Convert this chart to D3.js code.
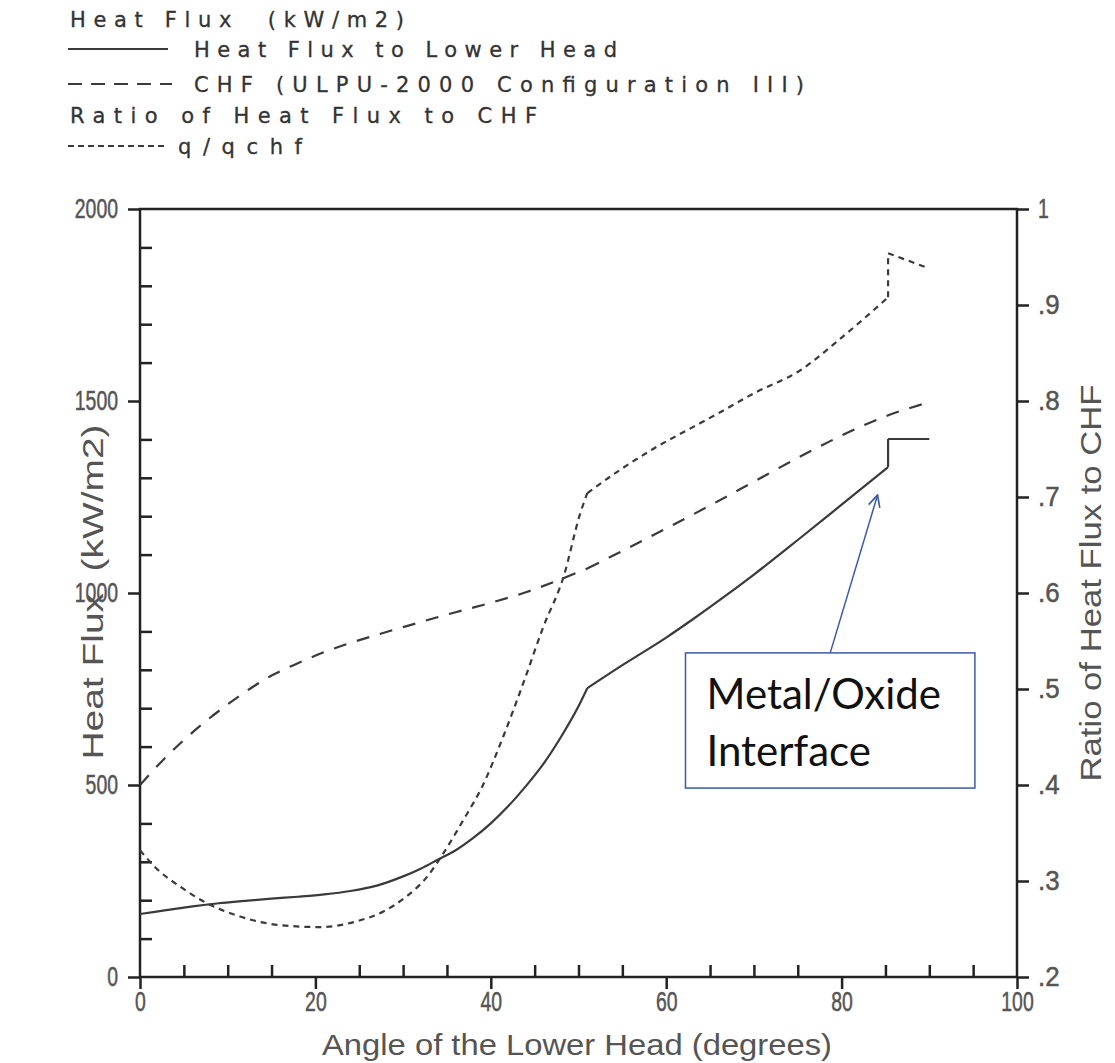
<!DOCTYPE html>
<html>
<head>
<meta charset="utf-8">
<script src="https://cdn.jsdelivr.net/npm/d3@7"></script>
<style>
  body { margin: 0; background: #fff; }
  .tickLbl { font-family: "Liberation Sans", sans-serif; font-size: 27px; fill: #555; stroke: #555; stroke-width: 0.5px; }
  .aTitle { font-family: "Liberation Sans", sans-serif; font-size: 30px; fill: #555; }
  .legText { font-family: "DejaVu Sans", sans-serif; font-size: 21px; fill: #333; stroke: #333; stroke-width: 0.3px; white-space: pre; }
</style>
</head>
<body>
<div id="chart"></div>
<script>
// heat flux to lower head (kW/m2)
var heatAngle = [0, 3, 6, 9, 12, 15, 18, 21, 24, 27, 30, 32, 34, 36, 38, 40, 42, 44, 46, 48, 50, 51, 55, 60, 63, 66, 70, 75, 80, 85.3, 85.3, 90];
var heatFlux = [164, 174, 184, 192, 198, 204, 209, 215, 224, 238, 262, 282, 306, 330, 362, 400, 445, 497, 555, 625, 705, 752, 812, 884, 931, 980, 1048, 1138, 1230, 1328, 1401, 1401];

// CHF (ULPU-2000 configuration III)
var chfAngle = [0, 2.5, 5, 7.5, 10, 12.5, 15, 18, 21, 24, 27, 30, 33, 36, 39.6, 44, 48, 51, 54.7, 60, 65, 70, 75, 80, 85, 90];
var chfFlux = [500, 562, 617, 666, 710, 750, 785, 817, 846, 870, 891, 911, 931, 950, 972, 1002, 1036, 1064, 1106, 1168, 1228, 1290, 1352, 1410, 1460, 1497];

// ratio q/qchf (right axis)
var ratioAngle = [0, 2, 4.6, 7.6, 11.4, 16, 20.5, 24.7, 27.7, 30.4, 32.7, 34.6, 36.9, 39, 41.4, 43.7, 46, 48.3, 50.2, 51, 54.7, 58.5, 63.9, 66.1, 70, 75.3, 80, 85.3, 85.3, 90];
var ratioVal = [0.332, 0.312, 0.294, 0.277, 0.263, 0.254, 0.252, 0.258, 0.268, 0.284, 0.304, 0.329, 0.364, 0.398, 0.45, 0.506, 0.565, 0.617, 0.683, 0.704, 0.728, 0.75, 0.777, 0.788, 0.808, 0.832, 0.866, 0.908, 0.954, 0.938];

// sharp corners in the curves (metal/oxide interface)
var kinkAngles = [51];

// ticks
var xMajor = [0, 20, 40, 60, 80, 100];
var yMajor = [0, 500, 1000, 1500, 2000];
var rTicks = [0.2, 0.3, 0.4, 0.5, 0.6, 0.7, 0.8, 0.9, 1];

var width = 1115;
var height = 1063;

var svg = d3.select("#chart")
  .append("svg")
  .attr("width", width)
  .attr("height", height);

var xScale = d3.scaleLinear().domain([0, 100]).range([140, 1017]);
var yScale = d3.scaleLinear().domain([0, 2000]).range([977, 209]);
var rScale = d3.scaleLinear().domain([0.2, 1]).range([977, 209]);

var lineCol = "#3a3a3a";
var axisCol = "#222";

//minor ticks
var xMinor = d3.range(0, 101, 5).filter(function(d) { return d % 20 !== 0; });
var yMinor = d3.range(0, 2001, 100).filter(function(d) { return d % 500 !== 0; });

// narrow the tick labels like the plotter font
function styleAxis(g) {
  g.select(".domain").remove();
  g.selectAll("line").attr("stroke", axisCol).attr("stroke-width", 2.5);
  g.selectAll("text")
    .attr("class", "tickLbl")
    .attr("fill", null)
    .each(function() {
      var t = d3.select(this);
      var n = t.text().length;
      if (n > 0) {
        t.attr("textLength", n * 10.8).attr("lengthAdjust", "spacingAndGlyphs");
      }
    });
}

// left axis
svg.append("g")
  .attr("transform", "translate(140,0)")
  .call(d3.axisLeft(yScale).tickValues(yMajor).tickSize(12).tickPadding(10).tickFormat(d3.format("d")))
  .call(styleAxis);
svg.append("g")
  .attr("transform", "translate(140,0)")
  .call(d3.axisRight(yScale).tickValues(yMinor).tickSize(12).tickFormat(""))
  .call(styleAxis);

// bottom axis
svg.append("g")
  .attr("transform", "translate(0,977)")
  .call(d3.axisBottom(xScale).tickValues(xMajor).tickSize(12).tickPadding(3))
  .call(styleAxis);
svg.append("g")
  .attr("transform", "translate(0,977)")
  .call(d3.axisTop(xScale).tickValues(xMinor).tickSize(12).tickFormat(""))
  .call(styleAxis);

// right axis
svg.append("g")
  .attr("transform", "translate(1017,0)")
  .call(d3.axisRight(rScale).tickValues(rTicks).tickSize(12).tickPadding(9)
    .tickFormat(function(d) { return d === 1 ? "1" : d.toFixed(1).replace("0.", "."); }))
  .call(styleAxis);

// frame
svg.append("rect")
  .attr("x", xScale(0))
  .attr("y", yScale(2000))
  .attr("width", xScale(100) - xScale(0))
  .attr("height", yScale(0) - yScale(2000))
  .attr("fill", "none")
  .attr("stroke", axisCol)
  .attr("stroke-width", 2.5);

// split a series at kinks and vertical steps, smooth the rest
function pieces(xs, ys) {
  var out = [];
  var cur = [[xs[0], ys[0]]];
  for (var i = 1; i < xs.length; i++) {
    var pt = [xs[i], ys[i]];
    if (xs[i] === xs[i - 1]) {
      out.push(cur);
      out.push([cur[cur.length - 1], pt]);
      cur = [pt];
    } else {
      cur.push(pt);
      if (kinkAngles.indexOf(xs[i]) >= 0) {
        out.push(cur);
        cur = [pt];
      }
    }
  }
  if (cur.length > 1) out.push(cur);
  return out;
}

function curvePath(xs, ys, yS) {
  var smooth = d3.line()
    .x(function(d) { return xScale(d[0]); })
    .y(function(d) { return yS(d[1]); })
    .curve(d3.curveMonotoneX);
  var straight = d3.line()
    .x(function(d) { return xScale(d[0]); })
    .y(function(d) { return yS(d[1]); });
  return pieces(xs, ys).map(function(p) {
    return p.length > 2 ? smooth(p) : straight(p);
  }).join("");
}

svg.append("path")
  .attr("d", curvePath(heatAngle, heatFlux, yScale))
  .attr("fill", "none")
  .attr("stroke", lineCol)
  .attr("stroke-width", 2.2);

svg.append("path")
  .attr("d", curvePath(chfAngle, chfFlux, yScale))
  .attr("fill", "none")
  .attr("stroke", lineCol)
  .attr("stroke-width", 2.2)
  .attr("stroke-dasharray", "13,11");

svg.append("path")
  .attr("d", curvePath(ratioAngle, ratioVal, rScale))
  .attr("fill", "none")
  .attr("stroke", lineCol)
  .attr("stroke-width", 2.2)
  .attr("stroke-dasharray", "6,5");

// axis titles
svg.append("text")
  .attr("class", "aTitle")
  .attr("x", 577)
  .attr("y", 1055)
  .attr("text-anchor", "middle")
  .attr("textLength", 510)
  .attr("lengthAdjust", "spacingAndGlyphs")
  .text("Angle of the Lower Head (degrees)");

svg.append("text")
  .attr("class", "aTitle")
  .attr("transform", "translate(103,592)rotate(-90)")
  .attr("text-anchor", "middle")
  .attr("textLength", 335)
  .attr("lengthAdjust", "spacingAndGlyphs")
  .style("white-space", "pre")
  .text("Heat Flux  (kW/m2)");

svg.append("text")
  .attr("class", "aTitle")
  .attr("transform", "translate(1101,583)rotate(-90)")
  .attr("text-anchor", "middle")
  .attr("textLength", 397)
  .attr("lengthAdjust", "spacingAndGlyphs")
  .text("Ratio of Heat Flux to CHF");

// legend
var legendRows = [
  { txt: "Heat Flux  (kW/m2)", x: 70, y: 27, len: 334, dash: null },
  { txt: "Heat Flux to Lower Head", x: 194, y: 57, len: 423, dash: "none", sx: 68, sw: 100 },
  { txt: "CHF (ULPU-2000 Configuration III)", x: 194, y: 92, len: 610, dash: "14,9", sx: 68, sw: 104 },
  { txt: "Ratio of Heat Flux to CHF", x: 70, y: 123, len: 467, dash: null },
  { txt: "q/qchf", x: 178, y: 154, len: 124, dash: "6,4", sx: 68, sw: 98 }
];

legendRows.forEach(function(r) {
  svg.append("text")
    .attr("class", "legText")
    .attr("x", r.x)
    .attr("y", r.y)
    .attr("textLength", r.len)
    .attr("lengthAdjust", "spacing")
    .text(r.txt);
  if (r.dash) {
    svg.append("line")
      .attr("x1", r.sx)
      .attr("x2", r.sx + r.sw)
      .attr("y1", r.y - 8)
      .attr("y2", r.y - 8)
      .attr("stroke", lineCol)
      .attr("stroke-width", 2)
      .attr("stroke-dasharray", r.dash === "none" ? null : r.dash);
  }
});

// annotation, in data units
var annoBox = { a0: 62.2, a1: 95.2, top: 844, bottom: 492 };
var arrowFrom = [78.7, 844];
var arrowTo = [84.1, 1255];
var blue = "#3a5aa8";

svg.append("rect")
  .attr("x", xScale(annoBox.a0))
  .attr("y", yScale(annoBox.top))
  .attr("width", xScale(annoBox.a1) - xScale(annoBox.a0))
  .attr("height", yScale(annoBox.bottom) - yScale(annoBox.top))
  .attr("fill", "#fff")
  .attr("stroke", blue)
  .attr("stroke-width", 1.5);

svg.append("defs").append("marker")
  .attr("id", "arrowHead")
  .attr("viewBox", "0 0 12 12")
  .attr("refX", 11)
  .attr("refY", 6)
  .attr("markerWidth", 14)
  .attr("markerHeight", 14)
  .attr("markerUnits", "userSpaceOnUse")
  .attr("orient", "auto")
  .append("path")
  .attr("d", "M1,1 L11,6 L1,11")
  .attr("fill", "none")
  .attr("stroke", blue)
  .attr("stroke-width", 1.4);

svg.append("line")
  .attr("x1", xScale(arrowFrom[0]))
  .attr("y1", yScale(arrowFrom[1]))
  .attr("x2", xScale(arrowTo[0]))
  .attr("y2", yScale(arrowTo[1]))
  .attr("stroke", blue)
  .attr("stroke-width", 1.5)
  .attr("marker-end", "url(#arrowHead)");

var annoLines = ["Metal/Oxide", "Interface"];
svg.selectAll(".anno")
  .data(annoLines)
  .enter()
  .append("text")
  .attr("class", "anno")
  .attr("x", xScale(64.6))
  .attr("y", function(d, i) { return 709 + i * 57; })
  .attr("font-family", "Lato, 'Open Sans', sans-serif")
  .attr("font-size", 42)
  .attr("fill", "#111")
  .text(function(d) { return d; });
</script>
</body>
</html>
